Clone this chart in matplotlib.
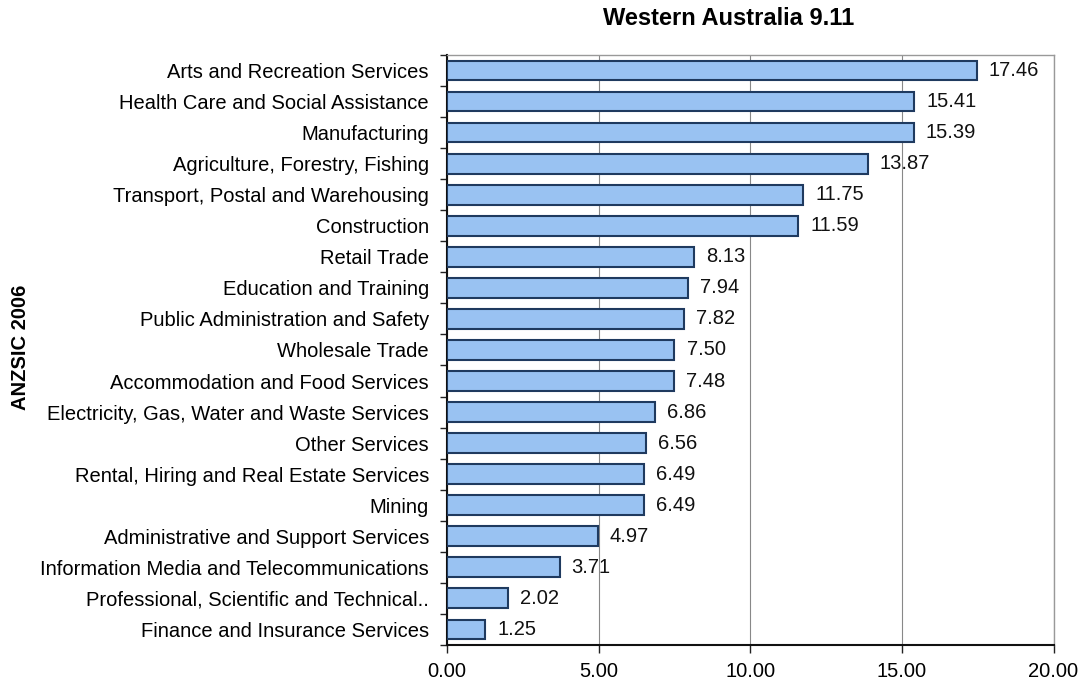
import matplotlib
matplotlib.use("Agg")
import matplotlib.pyplot as plt

plt.rcParams["font.family"] = ["Liberation Sans", "DejaVu Sans"]

industries = [
    "Arts and Recreation Services",
    "Health Care and Social Assistance",
    "Manufacturing",
    "Agriculture, Forestry, Fishing",
    "Transport, Postal and Warehousing",
    "Construction",
    "Retail Trade",
    "Education and Training",
    "Public Administration and Safety",
    "Wholesale Trade",
    "Accommodation and Food Services",
    "Electricity, Gas, Water and Waste Services",
    "Other Services",
    "Rental, Hiring and Real Estate Services",
    "Mining",
    "Administrative and Support Services",
    "Information Media and Telecommunications",
    "Professional, Scientific and Technical..",
    "Finance and Insurance Services",
]
values = [17.46, 15.41, 15.39, 13.87, 11.75, 11.59, 8.13, 7.94, 7.82, 7.50,
          7.48, 6.86, 6.56, 6.49, 6.49, 4.97, 3.71, 2.02, 1.25]
xticks = [0, 5, 10, 15, 20]

fig = plt.figure(figsize=(10.85, 6.83), dpi=100)
ax = fig.add_axes([0.412, 0.0556, 0.559, 0.864])

n = len(industries)
ys = list(range(n))[::-1]
ax.barh(ys, values, height=0.64, color="#99C2F2", edgecolor="#1F3A5F",
        linewidth=1.5, zorder=3)
for y, v in zip(ys, values):
    ax.text(v + 0.4, y, f"{v:.2f}", va="center", ha="left", fontsize=14.5,
            color="#111111", zorder=4)

ax.set_xlim(0, 20)
ax.set_ylim(-0.5, n - 0.5)
ax.set_xticks(xticks)
ax.set_xticklabels([f"{t:.2f}" for t in xticks], fontsize=14.5)
ax.set_yticks(ys)
ax.set_yticklabels(industries, fontsize=14.5)
ax.set_yticks([i - 0.5 for i in range(n + 1)], minor=True)
ax.tick_params(axis="y", which="major", length=0, pad=13)
ax.tick_params(axis="y", which="minor", length=5, width=1, color="#222222",
               direction="out")
ax.tick_params(axis="x", length=6, width=1, color="#222222", pad=6)
ax.grid(axis="x", color="#888888", lw=0.8, zorder=0)

for s in ("top", "right"):
    ax.spines[s].set_color("#999999")
    ax.spines[s].set_linewidth(1.0)
for s in ("left", "bottom"):
    ax.spines[s].set_color("#111111")
    ax.spines[s].set_linewidth(1.5)

fig.text(0.672, 0.973, "Western Australia 9.11", ha="center", va="center",
         fontsize=17, fontweight="bold")
fig.text(0.019, 0.492, "ANZSIC 2006", ha="center", va="center",
         rotation=90, fontsize=14.5, fontweight="bold")

fig.savefig("out.png", dpi=100)
